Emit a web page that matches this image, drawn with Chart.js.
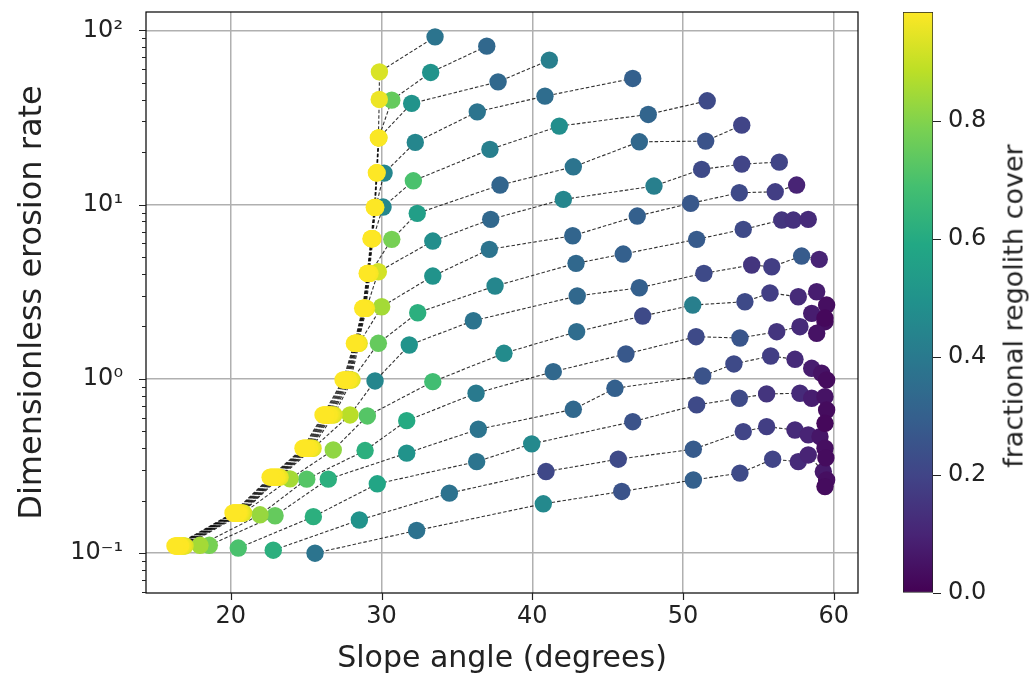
<!DOCTYPE html>
<html><head><meta charset="utf-8">
<script src="https://cdn.jsdelivr.net/npm/chart.js@4.4.1/dist/chart.umd.min.js"></script>
<style>
html,body{margin:0;padding:0;background:#fff;width:1030px;height:685px;overflow:hidden;position:relative}
#main{position:absolute;left:0;top:0}
#cbar{position:absolute;left:880px;top:0}
#cblabel{position:absolute;left:1013px;top:306px;transform:translate(-50%,-50%) rotate(-90deg);white-space:nowrap;font-family:"DejaVu Sans";font-size:27px;color:#222}
</style></head><body>
<canvas id="main" width="880" height="685"></canvas>
<canvas id="cbar" width="150" height="685"></canvas>
<div id="cblabel">fractional regolith cover</div>
<script>
// ---- axis ranges / ticks ----
const slopeMin = 14.38, slopeMax = 61.6;
const rateMin = 0.0591, rateMax = 127.3;
const coverMax = 0.985;
const slopeTicks = [20, 30, 40, 50, 60];
const coverTicks = [0, 0.2, 0.4, 0.6, 0.8];

// ---- series: [slope (deg), dimensionless erosion rate, fractional regolith cover] ----
const run01 = [[25.59,0.100,.38],[32.33,0.135,.37],[40.73,0.192,.46],[45.93,0.226,.25],[50.68,0.263,.30],[53.77,0.288,.22],[55.94,0.346,.20],[57.64,0.335,.12],[58.30,0.366,.10],[59.30,0.294,.07],[59.52,0.263,.04],[59.41,0.241,.03]];
const run02 = [[22.82,0.104,.62],[28.53,0.155,.50],[34.50,0.221,.37],[40.91,0.294,.21],[45.70,0.346,.22],[50.68,0.395,.28],[53.99,0.498,.20],[55.54,0.532,.18],[57.42,0.509,.12],[58.30,0.477,.10],[59.08,0.466,.06],[59.41,0.400,.04],[59.47,0.352,.03]];
const run03 = [[20.50,0.107,.70],[25.48,0.162,.62],[29.72,0.250,.58],[36.31,0.335,.38],[39.96,0.424,.46],[46.66,0.568,.25],[50.90,0.709,.22],[53.73,0.774,.22],[55.54,0.820,.15],[57.75,0.827,.12],[58.53,0.774,.08],[59.41,0.791,.05],[59.52,0.663,.03],[59.41,0.556,.02]];
const run04 = [[18.58,0.111,.78],[22.94,0.164,.75],[26.47,0.266,.62],[31.67,0.375,.50],[36.42,0.514,.38],[42.72,0.669,.33],[45.48,0.883,.30],[51.30,1.039,.25],[53.37,1.218,.22],[55.81,1.353,.18],[57.42,1.295,.12],[58.53,1.150,.08],[59.19,1.077,.05],[59.52,0.986,.03]];
const run05 = [[17.96,0.111,.85],[21.94,0.166,.83],[25.04,0.266,.72],[28.91,0.388,.62],[31.67,0.576,.60],[36.27,0.827,.40],[41.39,1.100,.33],[46.21,1.389,.27],[50.86,1.746,.22],[53.77,1.716,.26],[56.21,1.865,.15],[57.75,1.992,.12],[58.53,2.377,.08],[59.41,2.128,.04],[58.86,1.826,.05]];
const run06 = [[16.97,0.110,.93],[20.85,0.170,.93],[23.93,0.267,.85],[26.80,0.391,.82],[29.06,0.613,.72],[33.40,0.964,.68],[38.12,1.402,.47],[42.94,1.865,.35],[47.32,2.294,.22],[50.64,2.652,.42],[54.10,2.771,.22],[55.76,3.109,.18],[57.64,2.960,.12],[58.86,3.162,.08],[59.52,2.652,.04],[59.41,2.234,.02]];
const run07 = [[16.88,0.110,.95],[20.75,0.170,.95],[23.27,0.273,.95],[25.46,0.400,.94],[27.91,0.621,.88],[29.57,0.973,.45],[31.84,1.564,.50],[36.09,2.156,.38],[42.98,2.988,.33],[47.10,3.334,.30],[51.38,4.032,.22],[54.55,4.500,.15],[55.88,4.399,.18],[57.86,5.067,.28],[59.03,4.851,.10]];
const run08 = [[16.80,0.110,.96],[20.68,0.170,.96],[23.18,0.273,.96],[25.36,0.400,.96],[26.85,0.621,.94],[28.04,0.986,.94],[29.79,1.600,.75],[32.40,2.396,.62],[37.53,3.410,.45],[42.90,4.601,.33],[46.03,5.203,.30],[50.90,6.317,.28],[53.99,7.207,.22],[56.54,8.149,.15],[57.31,8.149,.14],[58.30,8.225,.12]];
const run09 = [[16.72,0.110,.97],[20.61,0.170,.97],[23.10,0.273,.97],[25.28,0.400,.97],[26.70,0.621,.96],[27.95,0.986,.96],[28.52,1.600,.95],[30.01,2.594,.85],[33.40,3.890,.50],[37.15,5.535,.38],[42.68,6.624,.32],[46.96,8.593,.30],[50.50,10.16,.27],[53.73,11.69,.22],[56.11,11.84,.18],[57.53,12.94,.10]];
const run10 = [[16.66,0.110,.985],[20.54,0.170,.98],[23.03,0.273,.98],[25.21,0.400,.98],[26.60,0.621,.97],[27.87,0.986,.97],[28.45,1.600,.97],[29.00,2.540,.96],[29.79,4.118,.92],[33.40,6.176,.48],[37.24,8.225,.33],[42.06,10.71,.45],[48.07,12.77,.42],[51.23,15.92,.22],[53.89,17.07,.20],[56.38,17.52,.20]];
const run11 = [[16.60,0.110,.985],[20.47,0.170,.985],[22.96,0.273,.98],[25.14,0.400,.98],[26.52,0.621,.98],[27.80,0.986,.98],[28.40,1.600,.98],[28.95,2.540,.97],[29.24,4.030,.97],[30.68,6.317,.78],[32.37,8.904,.55],[37.86,12.94,.32],[42.72,16.47,.38],[47.10,22.92,.33],[51.50,23.13,.25],[53.89,28.56,.20]];
const run12 = [[16.54,0.110,.985],[20.40,0.170,.985],[22.89,0.273,.985],[25.07,0.400,.98],[26.44,0.621,.98],[27.73,0.986,.98],[28.36,1.600,.98],[28.91,2.540,.98],[29.18,4.030,.98],[29.43,6.370,.97],[30.10,9.676,.45],[32.11,13.69,.70],[37.19,20.73,.42],[41.79,28.19,.48],[47.69,32.90,.32],[51.60,39.38,.22]];
const run13 = [[16.48,0.110,.985],[20.33,0.170,.985],[22.82,0.273,.985],[25.00,0.400,.985],[26.36,0.621,.98],[27.66,0.986,.98],[28.32,1.600,.98],[28.87,2.540,.98],[29.14,4.030,.98],[29.39,6.370,.98],[29.62,9.640,.97],[30.17,15.16,.45],[32.24,22.74,.45],[36.35,34.05,.38],[40.84,41.89,.35],[46.66,52.91,.30]];
const run14 = [[16.42,0.110,.985],[20.27,0.170,.985],[22.75,0.273,.985],[24.93,0.400,.985],[26.28,0.621,.985],[27.59,0.986,.98],[28.28,1.600,.98],[28.83,2.540,.98],[29.11,4.030,.98],[29.36,6.370,.98],[29.58,9.640,.98],[29.71,15.22,.97],[29.83,24.15,.95],[32.00,38.05,.50],[37.73,50.59,.33],[41.13,67.41,.42]];
const run15 = [[16.36,0.110,.985],[20.21,0.170,.985],[22.68,0.273,.985],[24.86,0.400,.985],[26.20,0.621,.985],[27.52,0.986,.985],[28.24,1.600,.985],[28.79,2.540,.98],[29.08,4.030,.98],[29.33,6.370,.98],[29.55,9.640,.98],[29.68,15.22,.98],[29.81,24.15,.97],[30.68,39.74,.75],[33.26,57.28,.50],[36.98,81.10,.33]];
const run16 = [[16.30,0.110,.985],[20.15,0.170,.985],[22.61,0.273,.985],[24.79,0.400,.985],[26.12,0.621,.985],[27.45,0.986,.985],[28.20,1.600,.985],[28.75,2.540,.985],[29.05,4.030,.985],[29.30,6.370,.985],[29.52,9.640,.985],[29.66,15.22,.985],[29.79,24.15,.98],[29.85,40.11,.96],[29.86,57.74,.93],[33.55,91.70,.38]];

const runs = [run01,run02,run03,run04,run05,run06,run07,run08,run09,run10,run11,run12,run13,run14,run15,run16];

// ---- viridis colormap ----
const viridisStops = ['#440154','#482475','#414487','#355f8d','#2a788e','#21918c','#22a884','#44bf70','#7ad151','#bddf26','#fde725'];
const virRGB = viridisStops.map(h => [parseInt(h.slice(1,3),16), parseInt(h.slice(3,5),16), parseInt(h.slice(5,7),16)]);
function viridis(t){
  t = Math.max(0, Math.min(1, t));
  const f = t * 10, i = Math.min(9, Math.floor(f)), u = f - i;
  const a = virRGB[i], b = virRGB[i+1];
  return 'rgb(' + [0,1,2].map(k => Math.round(a[k] + (b[k]-a[k])*u)).join(',') + ')';
}

const FONT = '"DejaVu Sans", sans-serif';
const TXT = '#222';
const SUP = {'-':'\u207B','0':'\u2070','1':'\u00B9','2':'\u00B2','3':'\u00B3'};
function powLabel(v){
  const l = Math.log10(v), r = Math.round(l);
  if (Math.abs(l - r) > 1e-6) return '';
  return '10' + String(r).split('').map(c => SUP[c]).join('');
}

const lineSets = runs.map(r => ({
  type: 'scatter',
  data: r.map(p => ({x: p[0], y: p[1]})),
  showLine: true, pointRadius: 0, pointHoverRadius: 0,
  borderColor: 'rgba(0,0,0,0.8)', borderWidth: 1.1, borderDash: [3.5, 2],
  fill: false, tension: 0, order: 1
}));
const allPts = [].concat(...runs);
const pointSet = {
  type: 'scatter',
  data: allPts.map(p => ({x: p[0], y: p[1]})),
  backgroundColor: allPts.map(p => viridis(p[2] / coverMax)),
  pointRadius: 8.7, pointHoverRadius: 8.7, borderWidth: 0, showLine: false, order: 0
};

// frame + tick marks (major longer than minor, like matplotlib)
const frame = {
  id: 'frame',
  afterDatasetsDraw(chart){
    const a = chart.chartArea, c = chart.ctx;
    c.save(); c.strokeStyle = '#000'; c.lineWidth = 1.2;
    c.strokeRect(a.left, a.top, a.right - a.left, a.bottom - a.top);
    c.strokeStyle = '#222'; c.lineWidth = 1.2;
    const ys = chart.scales.y, xs = chart.scales.x;
    c.beginPath();
    ys.ticks.forEach(t => {
      const py = Math.round(ys.getPixelForValue(t.value)) + 0.5;
      const len = t.major ? 7 : 4;
      c.moveTo(a.left - len, py); c.lineTo(a.left, py);
    });
    xs.ticks.forEach(t => {
      const px = Math.round(xs.getPixelForValue(t.value)) + 0.5;
      c.moveTo(px, a.bottom); c.lineTo(px, a.bottom + 7);
    });
    c.stroke();
    c.restore();
  }
};
function noPad(s){ s.paddingTop = 0; s.paddingBottom = 0; s.paddingLeft = 0; s.paddingRight = 0; }

new Chart(document.getElementById('main'), {
  type: 'scatter',
  data: {datasets: [pointSet, ...lineSets]},
  options: {
    responsive: false, animation: false, events: [],
    layout: {padding: {left: 0, right: 22, top: 12, bottom: 0}},
    plugins: {legend: {display: false}, tooltip: {enabled: false}},
    scales: {
      x: {
        type: 'linear', min: slopeMin, max: slopeMax,
        afterBuildTicks: s => { s.ticks = slopeTicks.map(v => ({value: v})); },
        ticks: {font: {family: FONT, size: 24}, color: TXT, padding: 3, autoSkip: false, maxRotation: 0},
        grid: {color: '#b0b0b0', lineWidth: 1.5, drawTicks: true, tickColor: 'rgba(0,0,0,0)', tickLength: 6},
        border: {display: false},
        title: {display: true, text: 'Slope angle (degrees)', font: {family: FONT, size: 30}, color: TXT, padding: {top: 0, bottom: 8}},
        afterFit: s => { s.height = 92; noPad(s); }
      },
      y: {
        type: 'logarithmic', min: rateMin, max: rateMax,
        afterBuildTicks: s => {
          const t = [];
          for (let e = -2; e <= 2; e++) for (let m = 1; m < 10; m++) {
            const v = m * Math.pow(10, e);
            if (v >= s.min && v <= s.max) t.push({value: v, major: m === 1});
          }
          s.ticks = t;
        },
        ticks: {font: {family: FONT, size: 24}, color: TXT, padding: 18, autoSkip: false, callback: v => powLabel(v)},
        grid: {color: c => (c.tick && c.tick.major) ? '#b0b0b0' : 'rgba(0,0,0,0)', lineWidth: 1.5, drawTicks: true, tickColor: 'rgba(0,0,0,0)', tickLength: 5},
        border: {display: false},
        title: {display: true, text: 'Dimensionless erosion rate', font: {family: FONT, size: 32}, color: TXT, padding: {top: 13, bottom: 0}},
        afterFit: s => { s.width = 146; noPad(s); }
      }
    }
  },
  plugins: [frame]
});

// ---- colorbar ----
new Chart(document.getElementById('cbar'), {
  type: 'bar',
  data: {labels: [''], datasets: [{
    data: [[0, coverMax]],
    backgroundColor: ctx => {
      const ch = ctx.chart, a = ch.chartArea;
      if (!a) return '#888';
      const g = ch.ctx.createLinearGradient(0, a.bottom, 0, a.top);
      viridisStops.forEach((c, i) => g.addColorStop(i / 10, c));
      return g;
    },
    borderColor: '#222', borderWidth: 1, borderSkipped: false,
    barPercentage: 1, categoryPercentage: 1
  }]},
  options: {
    responsive: false, animation: false, events: [],
    layout: {padding: {left: 23, right: 0, top: 12, bottom: 92}},
    plugins: {legend: {display: false}, tooltip: {enabled: false}},
    scales: {
      x: {display: false, afterFit: noPad},
      y: {
        position: 'right', min: 0, max: coverMax,
        afterBuildTicks: s => { s.ticks = coverTicks.map(v => ({value: v})); },
        ticks: {font: {family: FONT, size: 24}, color: TXT, padding: 7, callback: v => v.toFixed(1)},
        grid: {drawOnChartArea: false, tickColor: '#222', tickLength: 8},
        border: {display: false},
        afterFit: s => { s.width = 97; noPad(s); }
      }
    }
  }
});
</script>
</body></html>
